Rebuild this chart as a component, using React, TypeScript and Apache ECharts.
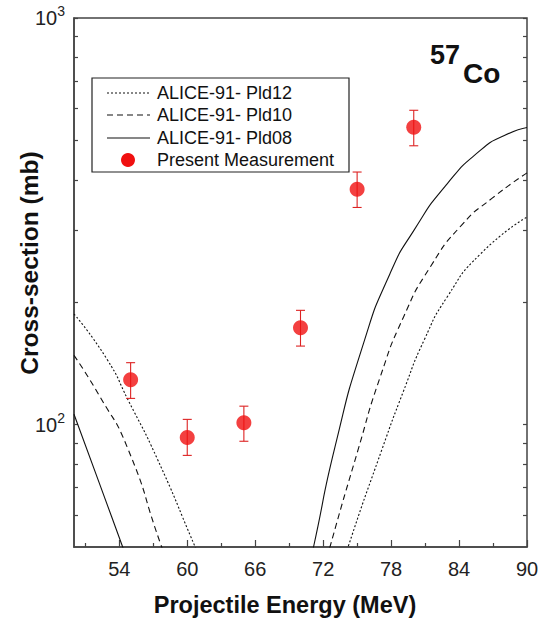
import React, { useEffect, useRef } from "react";
import * as echarts from "echarts";

// Measured cross-sections (Present Measurement)
const energy = [55, 60, 65, 70, 75, 80];
const crossSection = [129, 93, 101, 173, 379, 539];
const errLow = [116, 84, 91, 156, 342, 485];
const errHigh = [142, 103, 111, 191, 418, 593];

// ALICE-91 calculations (left and right branches)
const pld12LeftE = [50, 52.9, 54.8, 57.3, 60.7, 61.1];
const pld12LeftV = [187, 145, 114.6, 83, 50, 47];
const pld12RightE = [74.0, 74.2, 77.2, 79.1, 80.9, 82.95, 85.9, 90];
const pld12RightV = [47, 50, 87, 121, 161, 206, 263, 324];

const pld10LeftE = [50, 52.3, 54.7, 57.6, 58.0];
const pld10LeftV = [148, 117, 88, 51.3, 48];
const pld10RightE = [72.4, 72.6, 75.1, 77.0, 79.1, 81.45, 84.25, 86.9, 90];
const pld10RightV = [47, 50, 87, 130, 184, 244, 310, 360, 416];

const pld08LeftE = [50, 52.3, 54.3, 54.6];
const pld08LeftV = [106, 71, 50, 47.5];
const pld08RightE = [70.9, 71.15, 73.04, 75.55, 77.9, 80, 82.95, 85.9, 88, 90];
const pld08RightV = [47, 50, 88, 158, 235, 300, 391, 473, 514, 538];

const xLabels = [54, 60, 66, 72, 78, 84, 90];
const xMinorTicks = [51, 57, 63, 69, 75, 81, 87];
const yLabels = [100, 1000];
const yTicks = [60, 70, 80, 90, 100, 200, 300, 400, 500, 600, 700, 800, 900, 1000];

const legendNames = ["ALICE-91- Pld12", "ALICE-91- Pld10", "ALICE-91- Pld08", "Present Measurement"];
const xTitle = "Projectile Energy (MeV)";
const yTitle = "Cross-section (mb)";

const FONT = "'Liberation Sans', Arial, Helvetica, sans-serif";
const AXIS_COLOR = "#444";
const RED = "#f01010";

function pairs(xs: number[], ys: number[]) {
  return xs.map((x, i) => [x, ys[i]]);
}

export default function App() {
  const ref = useRef<HTMLDivElement>(null);
  useEffect(() => {
    if (!ref.current) return;
    const chart = echarts.init(ref.current, null, { renderer: "svg" });
    const lineSeries = (name: string, data: number[][], type: any) => ({
      name,
      type: "line",
      data,
      symbol: "none",
      smooth: 0.6,
      clip: true,
      lineStyle: { color: "#111", width: 1.1, type },
      silent: true,
      z: 2,
    });
    const dotted = [2, 2];
    const dashed = [6, 4];
    const option: any = {
      animation: false,
      backgroundColor: "#fff",
      textStyle: { fontFamily: FONT },
      grid: {
        left: 74,
        right: 23,
        top: 18,
        bottom: 77,
        show: true,
        borderColor: AXIS_COLOR,
        borderWidth: 1.5,
        backgroundColor: "transparent",
      },
      xAxis: [
        {
          type: "value",
          min: 50,
          max: 90,
          axisLine: { show: true, lineStyle: { color: AXIS_COLOR, width: 1.5 } },
          axisTick: { show: true, inside: true, length: 7, customValues: xLabels, lineStyle: { color: AXIS_COLOR, width: 1.2 } },
          axisLabel: { show: true, customValues: xLabels, margin: 12, fontSize: 20, color: "#222", fontFamily: FONT },
          splitLine: { show: false },
        },
        {
          type: "value",
          min: 50,
          max: 90,
          position: "bottom",
          axisLine: { show: false },
          axisTick: { show: true, inside: true, length: 4, customValues: xMinorTicks, lineStyle: { color: AXIS_COLOR, width: 1.2 } },
          axisLabel: { show: false },
          splitLine: { show: false },
        },
      ],
      yAxis: [
        {
          type: "log",
          logBase: 10,
          min: 50,
          max: 1000,
          axisLine: { show: true, lineStyle: { color: AXIS_COLOR, width: 1.5 } },
          axisTick: { show: true, inside: true, length: 4, customValues: yTicks, lineStyle: { color: AXIS_COLOR, width: 1.2 } },
          axisLabel: {
            show: true,
            customValues: yLabels,
            margin: 9,
            formatter: (v: number) => `{b|10}{s|${Math.round(Math.log10(v))}}`,
            rich: {
              b: { fontSize: 20, lineHeight: 28, color: "#222", fontFamily: FONT, verticalAlign: "middle" },
              s: { fontSize: 14, lineHeight: 12, color: "#222", fontFamily: FONT, verticalAlign: "top" },
            },
          },
          splitLine: { show: false },
        },
        {
          type: "log",
          logBase: 10,
          min: 50,
          max: 1000,
          position: "right",
          axisLine: { show: false },
          axisTick: { show: true, inside: true, length: 4, customValues: yTicks, lineStyle: { color: AXIS_COLOR, width: 1.2 } },
          axisLabel: { show: false },
          splitLine: { show: false },
        },
      ],
      series: [
        lineSeries(legendNames[0], pairs(pld12LeftE, pld12LeftV), dotted),
        lineSeries(legendNames[0], pairs(pld12RightE, pld12RightV), dotted),
        lineSeries(legendNames[1], pairs(pld10LeftE, pld10LeftV), dashed),
        lineSeries(legendNames[1], pairs(pld10RightE, pld10RightV), dashed),
        lineSeries(legendNames[2], pairs(pld08LeftE, pld08LeftV), "solid"),
        lineSeries(legendNames[2], pairs(pld08RightE, pld08RightV), "solid"),
        {
          name: "errors",
          type: "custom",
          data: energy.map((e, i) => [e, errLow[i], errHigh[i]]),
          encode: { x: 0, y: [1, 2] },
          z: 3,
          silent: true,
          renderItem: (params: any, api: any) => {
            const x = api.value(0);
            const lo = api.coord([x, api.value(1)]);
            const hi = api.coord([x, api.value(2)]);
            const w = 4.5;
            const style = { stroke: "#d22", lineWidth: 1.1 };
            return {
              type: "group",
              children: [
                { type: "line", shape: { x1: lo[0], y1: lo[1], x2: hi[0], y2: hi[1] }, style },
                { type: "line", shape: { x1: lo[0] - w, y1: lo[1], x2: lo[0] + w, y2: lo[1] }, style },
                { type: "line", shape: { x1: hi[0] - w, y1: hi[1], x2: hi[0] + w, y2: hi[1] }, style },
              ],
            };
          },
        },
        {
          name: legendNames[3],
          type: "scatter",
          data: pairs(energy, crossSection),
          symbol: "circle",
          symbolSize: 15,
          itemStyle: { color: RED },
          z: 4,
          silent: true,
        },
      ],
      graphic: [
        {
          type: "rect",
          shape: { x: 92, y: 78, width: 257, height: 94 },
          style: { fill: "#fff", stroke: "#222", lineWidth: 1.2 },
          z: 10,
        },
        { type: "line", shape: { x1: 107, y1: 93, x2: 150, y2: 93 }, style: { stroke: "#111", lineWidth: 1.1, lineDash: dotted }, z: 11 },
        { type: "line", shape: { x1: 107, y1: 115, x2: 150, y2: 115 }, style: { stroke: "#111", lineWidth: 1.1, lineDash: dashed }, z: 11 },
        { type: "line", shape: { x1: 107, y1: 138, x2: 150, y2: 138 }, style: { stroke: "#111", lineWidth: 1.1 }, z: 11 },
        { type: "circle", shape: { cx: 128, cy: 160, r: 7 }, style: { fill: RED }, z: 11 },
        ...legendNames.map((n, i) => ({
          type: "text",
          x: 157,
          y: [93, 115, 138, 160][i],
          style: { text: n, fontFamily: FONT, fontSize: 18, fill: "#111", textVerticalAlign: "middle", textAlign: "left" },
          z: 11,
        })),
        {
          type: "text",
          x: 430,
          y: 55,
          style: { text: "57", fontFamily: FONT, fontSize: 27, fontWeight: "bold", fill: "#111", textVerticalAlign: "middle" },
          z: 11,
        },
        {
          type: "text",
          x: 463,
          y: 73,
          style: { text: "Co", fontFamily: FONT, fontSize: 28, fontWeight: "bold", fill: "#111", textVerticalAlign: "middle" },
          z: 11,
        },
        {
          type: "text",
          x: 285,
          y: 605,
          style: { text: xTitle, fontFamily: FONT, fontSize: 23.5, fontWeight: "bold", fill: "#111", textAlign: "center", textVerticalAlign: "middle" },
          z: 11,
        },
        {
          type: "text",
          x: 29,
          y: 263,
          rotation: Math.PI / 2,
          style: { text: yTitle, fontFamily: FONT, fontSize: 24.5, fontWeight: "bold", fill: "#111", textAlign: "center", textVerticalAlign: "middle" },
          z: 11,
        },
      ],
    };
    chart.setOption(option);
    return () => chart.dispose();
  }, []);
  return (
    <div
      ref={ref}
      style={{ position: "fixed", left: 0, top: 0, width: 550, height: 624, background: "#fff" }}
    />
  );
}
